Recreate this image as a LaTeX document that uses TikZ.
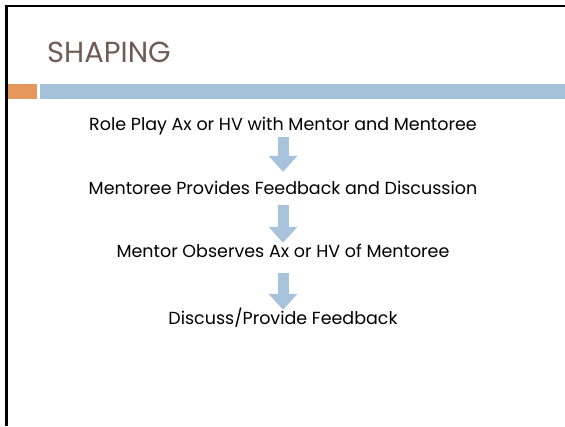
\documentclass[tikz,border=0pt]{standalone}
\usepackage{fontspec}
\setmainfont{Poppins}
\usetikzlibrary{arrows.meta}
\definecolor{titlebrown}{HTML}{705A52}
\definecolor{barblue}{HTML}{A5C2DA}
\definecolor{barorange}{HTML}{E6975B}
\definecolor{arrowblue}{HTML}{A7C3DB}

\begin{document}
\begin{tikzpicture}[x=1pt,y=-1pt,
    stagetext/.style={font=\fontsize{17.5}{20}\selectfont, inner sep=0pt, text height=13pt, text depth=4pt},
    downarrow/.style={arrowblue, line width=11pt, -{Triangle[width=28pt,length=16pt]}}]
      \useasboundingbox (0,0) rectangle (565,426);
      \draw[line width=2.5pt] (6.5,426) -- (6.5,6) -- (565,6);
      \fill[barorange] (8,84) rectangle (37,99);
      \fill[barblue] (40,84) rectangle (565,99);
      \node [anchor=base west, inner sep=0pt, text=titlebrown, font=\fontsize{29}{31}\selectfont] (title) at (47,62) {SHAPING};
      \node [stagetext] (role) at (283,126) {Role Play Ax or HV with Mentor and Mentoree};
      \node [stagetext] (feedback) at (283,190) {Mentoree Provides Feedback and Discussion};
      \node [stagetext] (observe) at (283,253) {Mentor Observes Ax or HV of Mentoree};
      \node [stagetext] (discuss) at (283,320) {Discuss/Provide Feedback};
      \draw[downarrow, shorten <=2.5pt, shorten >=9.5pt] (role) -- (feedback);
      \draw[downarrow, shorten <=6.5pt, shorten >=1.5pt] (feedback) -- (observe);
      \draw[downarrow, shorten <=11.5pt, shorten >=1.5pt] (observe) -- (discuss);
    \end{tikzpicture}
\end{document}
